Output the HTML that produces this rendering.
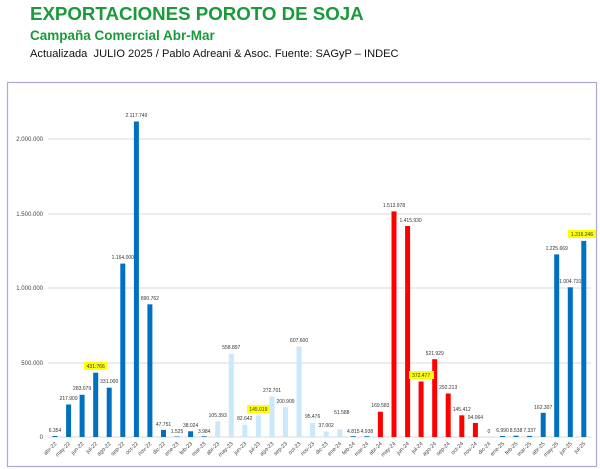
<!DOCTYPE html>
<html><head><meta charset="utf-8"><style>
body{margin:0;width:600px;height:469px;background:#fff;overflow:hidden;font-family:"Liberation Sans",sans-serif}
.t1{position:absolute;left:30px;top:3px;font-size:18.7px;font-weight:bold;color:#1a9a3a}
.t2{position:absolute;left:30px;top:28px;font-size:13.5px;font-weight:bold;color:#1a9a3a}
.t3{position:absolute;left:30px;top:48px;font-size:11.1px;color:#111}
svg{position:absolute;left:0;top:0}
</style></head><body>
<div class="t1">EXPORTACIONES POROTO DE SOJA</div>
<div class="t2">Campaña Comercial Abr-Mar</div>
<div class="t3">Actualizada&nbsp; JULIO 2025 / Pablo Adreani &amp; Asoc. Fuente: SAGyP – INDEC</div>
<svg width="600" height="469" font-family="Liberation Sans,sans-serif">
<rect x="7.5" y="82.5" width="589" height="384" fill="none" stroke="#a9a9e0" stroke-width="1.2"/>
<g stroke="#d9d9d9" stroke-width="1">
<line x1="48" x2="591" y1="139" y2="139"/><line x1="48" x2="591" y1="214" y2="214"/>
<line x1="48" x2="591" y1="288" y2="288"/><line x1="48" x2="591" y1="363" y2="363"/>
<line x1="48" x2="591" y1="437" y2="437"/></g>
<g font-size="6" fill="#444" text-anchor="end">
<text x="43" y="141">2.000.000</text><text x="43" y="216">1.500.000</text>
<text x="43" y="290">1.000.000</text><text x="43" y="365">500.000</text><text x="43" y="439">0</text></g>
<g fill="#0070c0">
<rect x="52.5" y="436" width="5" height="1"/><rect x="66.1" y="404.5" width="5" height="32.5"/>
<rect x="79.6" y="394.8" width="5" height="42.2"/><rect x="93.2" y="372.7" width="5" height="64.3"/>
<rect x="106.7" y="387.7" width="5" height="49.3"/><rect x="120.3" y="263.6" width="5" height="173.4"/>
<rect x="133.9" y="121.5" width="5" height="315.5"/><rect x="147.4" y="304.3" width="5" height="132.7"/>
<rect x="161" y="429.9" width="5" height="7.1"/><rect x="174.5" y="436.5" width="5" height="0.5"/>
<rect x="188.1" y="431.3" width="5" height="5.7"/><rect x="201.7" y="436.3" width="5" height="0.7"/>
<rect x="350.8" y="436.2" width="5" height="0.8"/><rect x="364.4" y="436.2" width="5" height="0.8"/>
<rect x="500" y="436" width="5" height="1"/><rect x="513.5" y="435.7" width="5" height="1.3"/>
<rect x="527.1" y="435.9" width="5" height="1.1"/><rect x="540.7" y="412.8" width="5" height="24.2"/>
<rect x="554.2" y="254.4" width="5" height="182.6"/><rect x="567.8" y="287.3" width="5" height="149.7"/>
<rect x="581.3" y="240.9" width="5" height="196.1"/></g>
<g fill="#c9e8fb">
<rect x="215.2" y="421.3" width="5" height="15.7"/><rect x="228.8" y="353.7" width="5" height="83.3"/>
<rect x="242.3" y="424.7" width="5" height="12.3"/><rect x="255.9" y="415.4" width="5" height="21.6"/>
<rect x="269.5" y="396.4" width="5" height="40.6"/><rect x="283" y="407.1" width="5" height="29.9"/>
<rect x="296.6" y="346.5" width="5" height="90.5"/><rect x="310.1" y="422.8" width="5" height="14.2"/>
<rect x="323.7" y="431.5" width="5" height="5.5"/><rect x="337.3" y="429.3" width="5" height="7.7"/></g>
<g fill="#ff0000">
<rect x="377.9" y="411.7" width="5" height="25.3"/><rect x="391.5" y="211.4" width="5" height="225.6"/>
<rect x="405.1" y="226" width="5" height="211"/><rect x="418.6" y="381.5" width="5" height="55.5"/>
<rect x="432.2" y="359.2" width="5" height="77.8"/><rect x="445.7" y="393.5" width="5" height="43.5"/>
<rect x="459.3" y="415.3" width="5" height="21.7"/><rect x="472.9" y="423" width="5" height="14"/></g>
<g fill="#ffff00">
<rect x="84" y="362" width="23" height="8"/><rect x="247" y="405" width="23" height="8"/>
<rect x="409" y="371" width="25" height="8"/><rect x="568" y="230" width="28" height="8"/></g>
<g font-size="5" fill="#333" text-anchor="middle">
<text x="55" y="432">6.354</text><text x="68.6" y="400">217.909</text><text x="82.1" y="390">283.079</text>
<text x="95.7" y="368">431.766</text><text x="109.2" y="383">331.000</text><text x="122.8" y="259">1.164.000</text>
<text x="136.4" y="117">2.117.749</text><text x="149.9" y="300">890.762</text><text x="163.5" y="426">47.751</text>
<text x="177" y="433">1.525</text><text x="190.6" y="427">38.024</text><text x="204.2" y="433">3.984</text>
<text x="217.7" y="417">105.393</text><text x="231.3" y="349">558.897</text><text x="244.8" y="420">82.642</text>
<text x="258.4" y="411">145.019</text><text x="272" y="392">272.701</text><text x="285.5" y="403">200.909</text>
<text x="299.1" y="342">607.600</text><text x="312.6" y="418">95.476</text><text x="326.2" y="427">37.002</text>
<text x="341.8" y="414">51.588</text><text x="353.3" y="433">4.815</text><text x="366.9" y="433">4.938</text>
<text x="380.4" y="407">169.583</text><text x="394" y="207">1.513.978</text><text x="410.6" y="222">1.415.930</text>
<text x="421.1" y="377">372.477</text><text x="434.7" y="355">521.929</text><text x="448.2" y="389">292.213</text>
<text x="461.8" y="411">145.412</text><text x="475.4" y="419">94.064</text><text x="488.9" y="433">0</text>
<text x="502.5" y="432">6.990</text><text x="516" y="432">8.538</text><text x="529.6" y="432">7.337</text>
<text x="543.2" y="409">162.307</text><text x="556.7" y="250">1.225.669</text><text x="570.3" y="283">1.004.731</text>
<text x="582" y="236">1.316.246</text></g>
<g font-size="5.5" fill="#444" text-anchor="end">
<text transform="translate(57,444) rotate(-45)">abr-22</text><text transform="translate(70.6,444) rotate(-45)">may-22</text>
<text transform="translate(84.1,444) rotate(-45)">jun-22</text><text transform="translate(97.7,444) rotate(-45)">jul-22</text>
<text transform="translate(111.2,444) rotate(-45)">ago-22</text><text transform="translate(124.8,444) rotate(-45)">sep-22</text>
<text transform="translate(138.4,444) rotate(-45)">oct-22</text><text transform="translate(151.9,444) rotate(-45)">nov-22</text>
<text transform="translate(165.5,444) rotate(-45)">dic-22</text><text transform="translate(179,444) rotate(-45)">ene-23</text>
<text transform="translate(192.6,444) rotate(-45)">feb-23</text><text transform="translate(206.2,444) rotate(-45)">mar-23</text>
<text transform="translate(219.7,444) rotate(-45)">abr-23</text><text transform="translate(233.3,444) rotate(-45)">may-23</text>
<text transform="translate(246.8,444) rotate(-45)">jun-23</text><text transform="translate(260.4,444) rotate(-45)">jul-23</text>
<text transform="translate(274,444) rotate(-45)">ago-23</text><text transform="translate(287.5,444) rotate(-45)">sep-23</text>
<text transform="translate(301.1,444) rotate(-45)">oct-23</text><text transform="translate(314.6,444) rotate(-45)">nov-23</text>
<text transform="translate(328.2,444) rotate(-45)">dic-23</text><text transform="translate(341.8,444) rotate(-45)">ene-24</text>
<text transform="translate(355.3,444) rotate(-45)">feb-24</text><text transform="translate(368.9,444) rotate(-45)">mar-24</text>
<text transform="translate(382.4,444) rotate(-45)">abr-24</text><text transform="translate(396,444) rotate(-45)">may-24</text>
<text transform="translate(409.6,444) rotate(-45)">jun-24</text><text transform="translate(423.1,444) rotate(-45)">jul-24</text>
<text transform="translate(436.7,444) rotate(-45)">ago-24</text><text transform="translate(450.2,444) rotate(-45)">sep-24</text>
<text transform="translate(463.8,444) rotate(-45)">oct-24</text><text transform="translate(477.4,444) rotate(-45)">nov-24</text>
<text transform="translate(490.9,444) rotate(-45)">dic-24</text><text transform="translate(504.5,444) rotate(-45)">ene-25</text>
<text transform="translate(518,444) rotate(-45)">feb-25</text><text transform="translate(531.6,444) rotate(-45)">mar-25</text>
<text transform="translate(545.2,444) rotate(-45)">abr-25</text><text transform="translate(558.7,444) rotate(-45)">may-25</text>
<text transform="translate(572.3,444) rotate(-45)">jun-25</text><text transform="translate(585.8,444) rotate(-45)">jul-25</text></g>
</svg>
</body></html>
